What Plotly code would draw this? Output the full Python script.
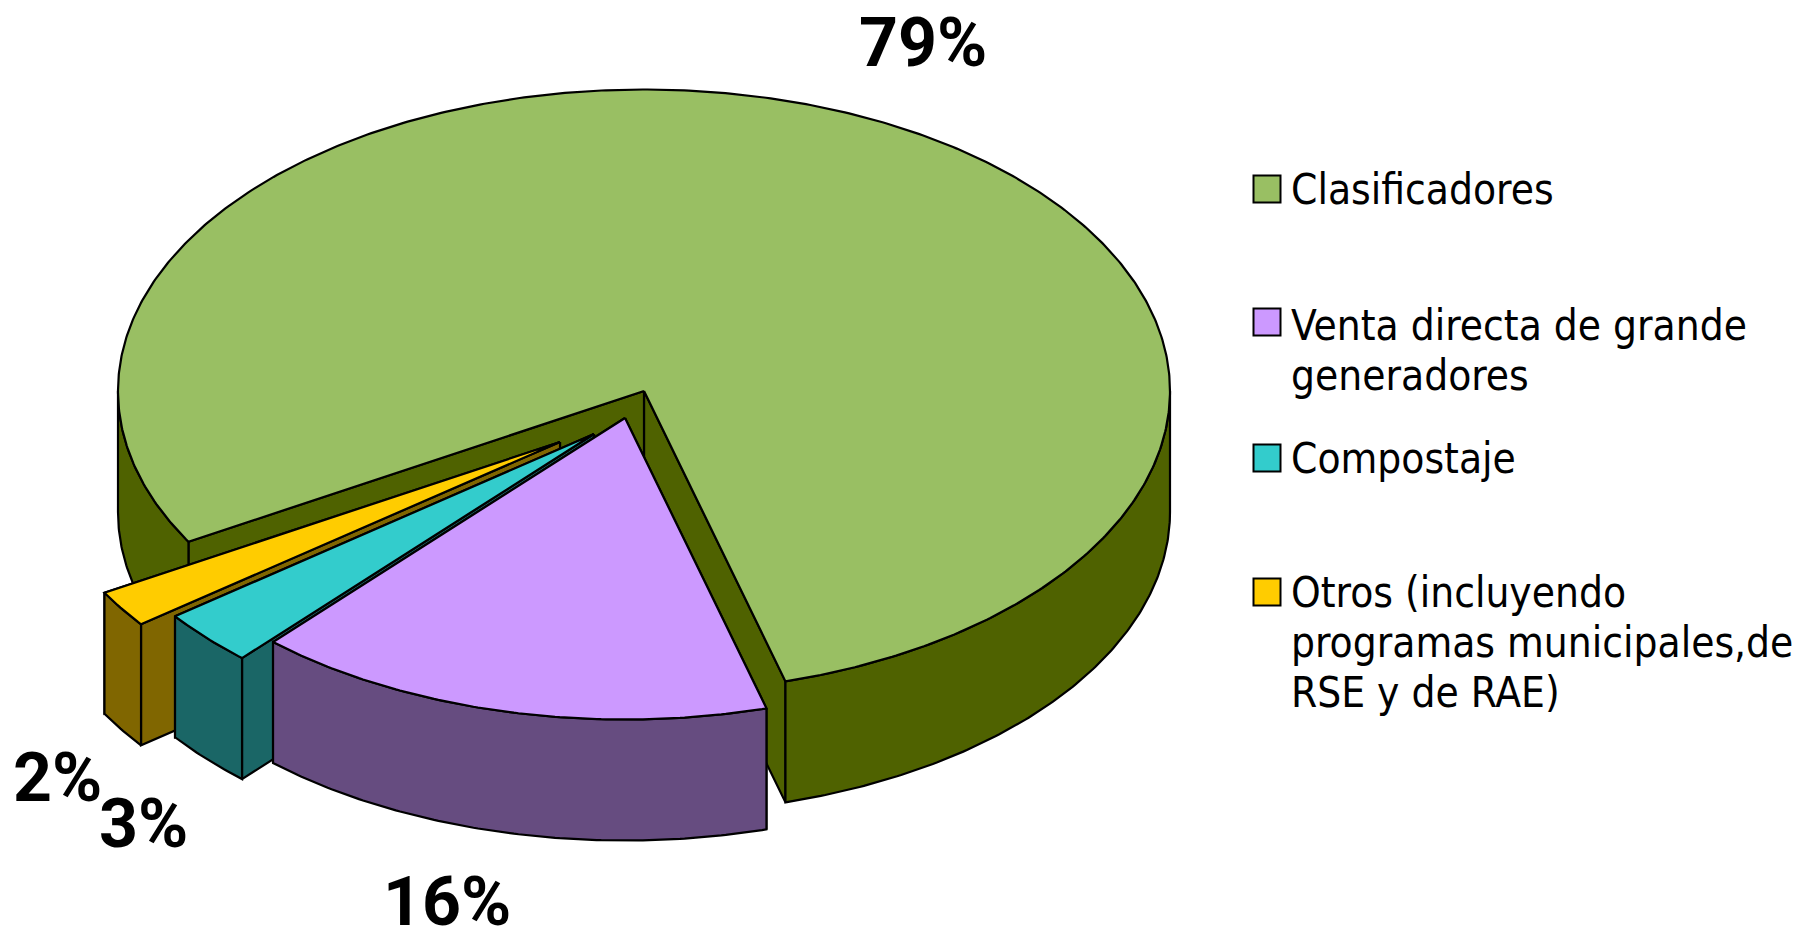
import numpy as np
import plotly.graph_objects as go

categories = ["Clasificadores", "Venta directa de grande<br>generadores", "Compostaje",
              "Otros (incluyendo<br>programas municipales,de<br>RSE y de RAE)"]
values = [79, 16, 3, 2]
value_labels = ["79%", "16%", "3%", "2%"]
top_colors = ["#99BF63", "#CC99FF", "#33CCCC", "#FFCC00"]
side_colors = ["#4F6200", "#664C80", "#1A6666", "#806600"]

# Projection of the tilted pie into the page (pixels)
CX, CY, RX, RY, DEPTH = 644, 391, 526, 301.5, 121
START_DEG = 240
explode = [(0, 0), (-19, 27), (-50, 43), (-84, 51)]
draw_order = [0, 3, 2, 1]
label_pos = [(923, 43), (447, 902), (143, 824), (57, 778)]
FS_LEGEND, FS_LABEL = 42, 68
FONT = "DejaVu Sans Condensed, DejaVu Sans"
LABEL_FONT = "Roboto"
legend_swatch_x = 1267
legend_swatch_y = [189, 322, 458, 592]
legend_text_x = 1289
legend_first_line_y = [189, 325, 458, 592]
LINE_PITCH = 50


def rim(a0, a1, ox, oy, dz=0.0):
    t = np.radians(np.linspace(a0, a1, max(2, int(abs(a1 - a0) * 2))))
    return CX + ox + RX * np.sin(t), CY + oy + dz - RY * np.cos(t)


fig = go.Figure()


def poly(x, y, color, name):
    fig.add_trace(go.Scatter(x=list(x) + [x[0]], y=list(y) + [y[0]], mode="lines", fill="toself",
                             fillcolor=color, line=dict(color="#000000", width=2.2),
                             name=name.replace("<br>", " "), showlegend=False, hoverinfo="name"))


angles = np.cumsum([0] + [v / sum(values) * 360 for v in values]) + START_DEG
for i in draw_order:
    a0, a1 = angles[i], angles[i + 1]
    ox, oy = explode[i]
    ax, ay = CX + ox, CY + oy
    # cut faces
    for a in (a1, a0):
        rx, ry = rim(a, a, ox, oy)
        poly([ax, rx[0], rx[0], ax], [ay, ry[0], ry[0] + DEPTH, ay + DEPTH], side_colors[i], categories[i])
    # outer wall, front half only (90 deg .. 270 deg, modulo 360)
    for k in (0, 1):
        lo, hi = max(a0, 90 + 360 * k), min(a1, 270 + 360 * k)
        if hi > lo:
            ux, uy = rim(lo, hi, ox, oy)
            lx, ly = rim(hi, lo, ox, oy, DEPTH)
            poly(np.r_[ux, lx], np.r_[uy, ly], side_colors[i], categories[i])
    # top surface
    tx, ty = rim(a0, a1, ox, oy)
    poly(np.r_[ax, tx], np.r_[ay, ty], top_colors[i], categories[i])

# legend
for cat, col, sy, ty in zip(categories, top_colors, legend_swatch_y, legend_first_line_y):
    fig.add_trace(go.Scatter(x=[legend_swatch_x], y=[sy], mode="markers", showlegend=False,
                             marker=dict(symbol="square", size=27, color=col,
                                         line=dict(color="#000000", width=2)),
                             hoverinfo="skip"))
    for n, line in enumerate(cat.split("<br>")):
        fig.add_annotation(x=legend_text_x, y=ty + n * LINE_PITCH, text=line, showarrow=False,
                           xanchor="left", yanchor="middle", align="left",
                           font=dict(family=FONT, size=FS_LEGEND, color="#000000"))

for lab, (lx, ly) in zip(value_labels, label_pos):
    fig.add_annotation(x=lx, y=ly, text=lab, showarrow=False, xanchor="center", yanchor="middle",
                       font=dict(family=LABEL_FONT, size=FS_LABEL, color="#000000", weight="bold"))

fig.update_layout(margin=dict(l=0, r=0, t=0, b=0), paper_bgcolor="#FFFFFF", plot_bgcolor="#FFFFFF",
                  width=1798, height=930, showlegend=False,
                  xaxis=dict(range=[0, 1798], visible=False, fixedrange=True),
                  yaxis=dict(range=[930, 0], visible=False, fixedrange=True))
fig.write_html("out.html", config={"displayModeBar": False},
               post_script="document.body.style.margin='0';document.documentElement.style.overflow='hidden';")
